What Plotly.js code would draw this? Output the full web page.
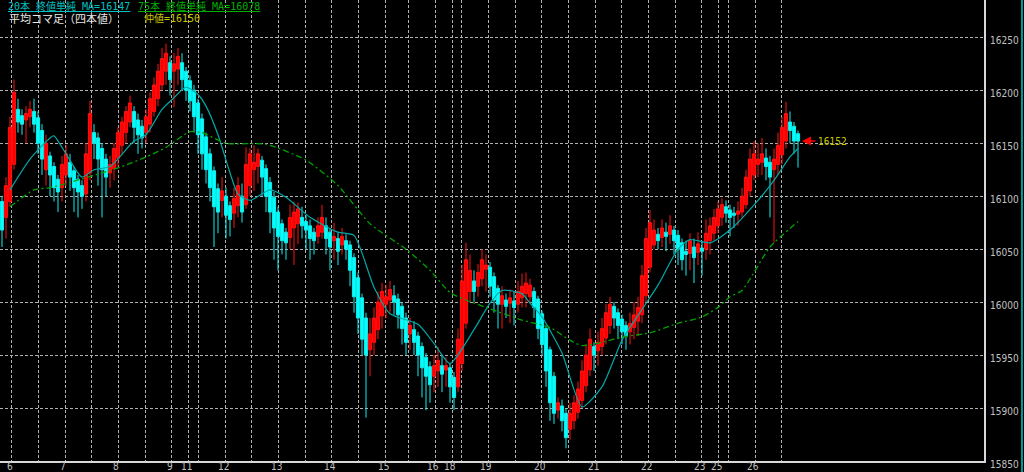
<!DOCTYPE html>
<html>
<head>
<meta charset="utf-8">
<script src="https://cdn.plot.ly/plotly-3.0.1.min.js"></script>
<style>html,body{margin:0;padding:0;background:#000;}#chart{width:1024px;height:472px;}</style>
</head>
<body>
<div id="chart"></div>
<script>
// Heikin-Ashi candles (平均コマ足)
const open = [16095,16080,16095,16130,16182,16176,16172,16175,16180,16174,
16162,16125,16138,16128,16116,16108,16120,16132,16124,16116,
16110,16102,16122,16160,16155,16145,16135,16122,16126,16136,
16148,16160,16170,16180,16172,16166,16160,16168,16180,16192,
16205,16218,16226,16218,16220,16226,16218,16209,16200,16188,
16173,16156,16140,16124,16107,16096,16100,16091,16084,16091,
16100,16092,16110,16125,16128,16134,16126,16113,16099,16085,
16074,16066,16061,16070,16074,16080,16076,16072,16066,16062,
16066,16072,16066,16058,16060,16054,16058,16054,16042,16023,
16004,15985,15955,15962,15974,15987,15998,16002,16006,16003,
15996,15985,15970,15974,15968,15958,15948,15939,15930,15935,
15940,15936,15938,15929,15920,15942,15980,16010,16020,16015,
16022,16031,16033,16024,16013,15998,16002,15999,16001,15998,
16004,16008,16005,16010,16003,15989,15975,15955,15930,15898,
15902,15895,15880,15888,15896,15907,15921,15936,15958,15954,
15958,15966,15978,15996,15990,15984,15978,15972,15976,15982,
15988,16006,16033,16054,16064,16061,16066,16064,16068,16063,
16056,16048,16046,16052,16047,16051,16050,16058,16065,16072,
16080,16090,16087,16084,16083,16085,16092,16105,16120,16130,
16132,16136,16132,16125,16130,16139,16152,16170,16166,16159];
const high = [16100,16118,16175,16210,16192,16182,16185,16190,16192,16180,
16168,16158,16142,16132,16120,16138,16148,16140,16128,16120,
16115,16150,16190,16168,16160,16150,16140,16138,16150,16165,
16175,16185,16195,16185,16178,16172,16182,16198,16212,16225,
16240,16244,16232,16235,16240,16235,16222,16214,16205,16192,
16178,16160,16145,16128,16112,16118,16108,16095,16108,16118,
16112,16146,16145,16148,16145,16138,16130,16118,16104,16090,
16078,16070,16092,16095,16094,16090,16082,16078,16070,16080,
16092,16080,16070,16075,16066,16070,16064,16058,16046,16028,
16008,15990,15985,15995,16010,16018,16016,16020,16016,16008,
16000,15990,15985,15982,15972,15962,15952,15944,15950,15958,
15950,15948,15942,15934,15975,16035,16056,16045,16030,16036,
16050,16045,16038,16028,16016,16015,16008,16012,16010,16020,
16027,16028,16022,16014,16006,15992,15978,15958,15934,15910,
15908,15900,15905,15912,15925,15945,15960,15975,15962,15972,
15985,15998,16005,16000,15994,15988,15982,15990,16000,16005,
16035,16070,16087,16078,16070,16078,16075,16082,16072,16068,
16060,16058,16065,16060,16066,16058,16078,16080,16088,16095,
16098,16096,16092,16090,16095,16108,16125,16145,16152,16150,
16155,16145,16138,16145,16160,16175,16189,16180,16170,16162];
const low = [16052,16060,16090,16125,16160,16158,16150,16165,16160,16140,
16120,16110,16100,16095,16085,16095,16110,16105,16085,16080,
16088,16095,16115,16135,16110,16080,16100,16108,16115,16128,
16140,16150,16165,16150,16140,16145,16150,16160,16175,16185,
16200,16205,16195,16184,16205,16200,16190,16180,16160,16140,
16125,16112,16095,16052,16065,16080,16060,16062,16070,16080,
16075,16088,16100,16105,16112,16100,16085,16065,16040,16030,
16045,16040,16050,16035,16055,16060,16050,16040,16045,16055,
16060,16045,16030,16040,16035,16045,16040,16015,15990,15970,
15950,15891,15930,15950,15965,15975,15985,15990,15988,15975,
15960,15950,15955,15950,15930,15910,15898,15905,15915,15920,
15915,15920,15905,15898,15915,15935,15975,16000,16000,16005,
16015,16010,16005,15990,15975,15975,15985,15980,15978,15990,
15995,15995,15999,15985,15965,15950,15920,15888,15885,15890,
15878,15862,15870,15880,15890,15900,15915,15930,15935,15940,
15950,15960,15970,15975,15965,15960,15955,15960,15965,15968,
15980,16000,16028,16050,16050,16052,16048,16055,16045,16035,
16030,16025,16030,16018,16035,16025,16040,16045,16058,16065,
16072,16075,16062,16070,16072,16080,16088,16100,16115,16118,
16120,16115,16080,16056,16120,16130,16145,16150,16140,16127];
const close = [16068,16110,16165,16198,16170,16168,16178,16182,16168,16150,
16135,16150,16120,16108,16104,16130,16140,16118,16108,16104,
16100,16140,16178,16150,16135,16125,16118,16130,16145,16160,
16170,16180,16188,16165,16158,16155,16175,16192,16205,16218,
16230,16235,16210,16225,16232,16210,16200,16190,16175,16158,
16140,16125,16108,16090,16085,16105,16082,16078,16098,16110,
16085,16130,16140,16132,16140,16118,16100,16085,16070,16062,
16058,16056,16080,16085,16088,16072,16068,16060,16058,16072,
16080,16060,16052,16062,16048,16062,16050,16030,16005,15985,
15965,15950,15970,15985,16000,16010,16005,16012,16000,15988,
15975,15962,15978,15962,15950,15938,15930,15922,15940,15945,
15932,15940,15920,15910,15965,16020,16040,16030,16010,16028,
16040,16035,16015,16002,15998,16006,15996,16004,15995,16010,
16015,16018,16016,15995,15975,15960,15935,15905,15895,15905,
15888,15872,15895,15905,15918,15935,15950,15965,15950,15962,
15975,15990,15998,15985,15978,15972,15968,15980,15988,15995,
16025,16060,16075,16068,16058,16070,16062,16072,16058,16050,
16040,16045,16058,16042,16055,16048,16065,16072,16080,16088,
16092,16084,16080,16082,16086,16100,16118,16135,16140,16135,
16140,16128,16118,16135,16148,16165,16178,16162,16152,16152];

// 20-bar simple MA of closes (teal), read as points at bar positions
const ma20Bar = [2,7,12,13,16,20,23,27,33,36,40,43,46,49,51,54,57,59,62,67,71,77,84,88,93,97,104,108,112,118,122,125,130,132,135,140,145,150,155,160,164,169,172,177,182,189,193,197,199];
const ma20 = [16106,16135,16155,16157,16140,16118,16125,16128,16152,16158,16182,16193,16203,16196,16185,16158,16122,16102,16096,16106,16099,16080,16066,16063,16014,15989,15979,15961,15942,15974,15999,16011,16008,15999,15986,15952,15901,15920,15964,15993,16016,16050,16059,16056,16068,16096,16115,16137,16145];
// 75-bar simple MA (green dash-dot)
const ma75Bar = [2,8,12,17,25,30,36,41,47,50,56,66,76,84,92,101,107,112,116,121,130,137,142,145,150,155,162,169,175,179,182,185,192,199];
const ma75 = [16090,16106,16108,16113,16122,16128,16137,16146,16161,16160,16150,16149,16134,16110,16074,16050,16030,16009,16002,15995,15983,15976,15964,15959,15962,15967,15971,15980,15986,15995,16005,16011,16052,16076];

// Day labels on the time axis and price tick labels
const dayLabels = ["6","7","8","9","11","12","13","14","15","16","18","19","20","21","22","23","25","26"];
const priceTicks = [15850,15900,15950,16000,16050,16100,16150,16200,16250];
const ma20Last = 16147, ma75Last = 16078, midPrice = 16150, lastPrice = 16152;

const bars = open.map((_, i) => i);

// vertical grid positions (bar units) and which ones carry a day label
const gridPos = [2.42,9.08,15.75,22.42,29.08,35.75,42.42,46.58,49.08,55.75,62.42,69.08,75.75,82.42,89.08,95.75,101.58,108.25,112.58,114.92,121.58,128.25,134.92,141.58,148.25,154.92,161.58,168.25,174.92,179,181.58,188.25,194.92];
const labelAt = [0,2,4,6,7,9,11,13,15,17,18,20,22,24,26,28,29,31];

const narrow = "Liberation Sans Narrow, DejaVu Sans Condensed, sans-serif";
const tickFont = {family: narrow, size: 10, color: "#c0c0c0"};
const gridColor = "#b0b0b0";

const traces = [
  {
    type: "candlestick", x: bars, open: open, high: high, low: low, close: close,
    increasing: {line: {color: "#ff1010", width: 1}, fillcolor: "#ff0000"},
    decreasing: {line: {color: "#10eeee", width: 1}, fillcolor: "#00ffff"},
    whiskerwidth: 0, hoverinfo: "skip", showlegend: false
  },
  {
    type: "scatter", mode: "lines", x: ma20Bar, y: ma20,
    line: {color: "#00a8a8", width: 1.2, shape: "spline", smoothing: 0.6},
    hoverinfo: "skip", showlegend: false
  },
  {
    type: "scatter", mode: "lines", x: ma75Bar, y: ma75,
    line: {color: "#00a000", width: 1.3, dash: "6px,3px,2px,3px", shape: "spline", smoothing: 0.6},
    hoverinfo: "skip", showlegend: false
  }
];

const legendFont = "DejaVu Sans Mono, Noto Sans CJK JP, monospace";
const annotations = [
  {xref: "paper", yref: "paper", x: 7/984, y: 1 - 5.5/461, xanchor: "left", yanchor: "middle", borderpad: 0,
   text: "<u>20本 終値単純 MA=" + ma20Last + "</u>", showarrow: false,
   font: {family: legendFont, size: 10, color: "#00c0c0"}},
  {xref: "paper", yref: "paper", x: 137/984, y: 1 - 5.5/461, xanchor: "left", yanchor: "middle", borderpad: 0,
   text: "<u>75本 終値単純 MA=" + ma75Last + "</u>", showarrow: false,
   font: {family: legendFont, size: 10, color: "#00b000"}},
  {xref: "paper", yref: "paper", x: 8/984, y: 1 - 18.5/461, xanchor: "left", yanchor: "middle", borderpad: 0,
   text: "平均コマ足（四本値）", showarrow: false,
   font: {family: "Noto Sans CJK JP, sans-serif", size: 11, color: "#e8e8e8"}},
  {xref: "paper", yref: "paper", x: 143/984, y: 1 - 18.5/461, xanchor: "left", yanchor: "middle", borderpad: 0,
   text: "仲値=" + midPrice, showarrow: false,
   font: {family: legendFont, size: 10, color: "#c8c800"}},
  {xref: "x", yref: "y", x: 200, y: lastPrice, ax: 15, ay: 0, text: "",
   showarrow: true, arrowhead: 2, arrowsize: 1.2, arrowwidth: 1.5, arrowcolor: "#ff0000"},
  {xref: "x", yref: "y", x: 203.5, y: lastPrice, xanchor: "left", yanchor: "middle",
   text: String(lastPrice), showarrow: false,
   font: {family: narrow, size: 10, color: "#c8c800"}}
];
// day labels under the time axis
labelAt.forEach((g, k) => {
  annotations.push({xref: "x", yref: "paper", x: gridPos[g], y: 0, xanchor: "center", yanchor: "top",
    xshift: -2, yshift: 1, borderpad: 0, text: dayLabels[k], showarrow: false, font: tickFont});
});

const layout = {
  width: 1024, height: 472,
  paper_bgcolor: "#000000", plot_bgcolor: "#000000",
  margin: {l: 0, r: 40, t: 0, b: 11, pad: 0},
  hovermode: false, showlegend: false, dragmode: false,
  boxgap: 0.12, boxgroupgap: 0.1,
  xaxis: {
    range: [-0.5, 245.5], rangeslider: {visible: false},
    tickmode: "array", tickvals: gridPos, ticktext: gridPos.map(() => ""),
    showgrid: true, gridcolor: gridColor, griddash: "3px,2px", gridwidth: 1,
    ticks: "", showticklabels: false,
    showline: true, linecolor: "#d8d8d8", linewidth: 2, zeroline: false, fixedrange: true
  },
  yaxis: {
    side: "right", range: [15850, 16285.2],
    tickmode: "array", tickvals: priceTicks, ticktext: priceTicks.map(String),
    showgrid: true, gridcolor: gridColor, griddash: "3px,2px", gridwidth: 1,
    ticks: "", tickfont: tickFont, ticklabelstandoff: 2, ticklabelshift: 3,
    showline: true, linecolor: "#d8d8d8", linewidth: 2, zeroline: false, fixedrange: true
  },
  shapes: [
    {type: "line", xref: "paper", yref: "paper", x0: 1.0386, x1: 1.0386, y0: -0.03, y1: 1,
     line: {color: "#009a9a", width: 2}}
  ],
  annotations: annotations
};

Plotly.newPlot("chart", traces, layout, {staticPlot: true, displayModeBar: false});
</script>
</body>
</html>
